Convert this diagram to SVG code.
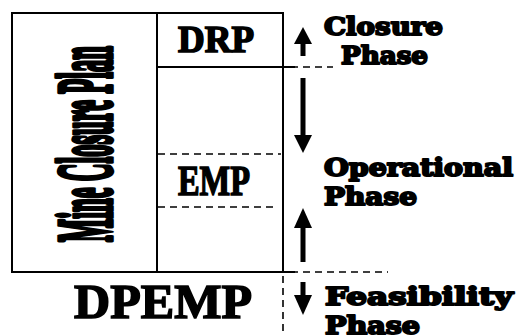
<svg xmlns="http://www.w3.org/2000/svg" width="516" height="336" viewBox="0 0 516 336">
<defs>
<style>
.ln{stroke:#000;stroke-width:2;fill:none}
.dash{stroke:#000;stroke-width:1.6;fill:none;stroke-dasharray:7,5}
.bx{font-family:"Liberation Serif","Times New Roman",serif;font-weight:bold;fill:#000;stroke:#000;stroke-width:1.6}
.mcp{stroke-width:5.5px;stroke-linejoin:round}
.ph{font-family:"DejaVu Serif","Liberation Serif",serif;font-weight:bold;fill:#000;stroke:#000;stroke-width:2;stroke-linejoin:round;font-size:24px}
.arr{fill:#000}
</style>
</defs>
<rect width="516" height="336" fill="#fff"/>
<g id="plan">
<rect class="ln" x="12" y="13" width="271" height="259"/>
<text class="bx mcp" transform="translate(111,242) rotate(-90)" font-size="79" textLength="196" lengthAdjust="spacingAndGlyphs">Mine Closure Plan</text>
</g>
<g id="drp">
<line class="ln" x1="157" y1="13" x2="157" y2="272"/>
<text class="bx" x="216" y="52" font-size="37" text-anchor="middle">DRP</text>
</g>
<g id="emp">
<text class="bx" x="178" y="195" font-size="43" textLength="72" lengthAdjust="spacingAndGlyphs">EMP</text>
</g>
<g id="dpemp">
<text class="bx" x="74" y="318" font-size="49" textLength="178" lengthAdjust="spacingAndGlyphs">DPEMP</text>
</g>
<g id="phases">
<text class="ph" x="324" y="35" textLength="119" lengthAdjust="spacingAndGlyphs">Closure</text>
<text class="ph" x="341" y="64" textLength="87" lengthAdjust="spacingAndGlyphs">Phase</text>
<text class="ph" x="324" y="176" textLength="189" lengthAdjust="spacingAndGlyphs">Operational</text>
<text class="ph" x="324" y="205" textLength="93" lengthAdjust="spacingAndGlyphs">Phase</text>
<text class="ph" x="325" y="305" textLength="188" lengthAdjust="spacingAndGlyphs">Feasibility</text>
<text class="ph" x="325" y="334" textLength="95" lengthAdjust="spacingAndGlyphs">Phase</text>
</g>
<g id="connectors">
<line class="ln" x1="157" y1="67" x2="295" y2="67"/>
<line class="ln" x1="283" y1="272" x2="295" y2="272"/>
<line class="dash" x1="158" y1="154" x2="281" y2="154"/>
<line class="dash" x1="158" y1="207" x2="278" y2="207"/>
<line class="dash" x1="291" y1="67" x2="333" y2="67"/>
<line class="dash" x1="291" y1="272" x2="388" y2="272"/>
<line class="dash" x1="283" y1="276" x2="283" y2="336"/>
<rect class="arr" x="300.5" y="42" width="5" height="14"/>
<polygon class="arr" points="303,27 294,44 312,44"/>
<rect class="arr" x="300.5" y="78" width="5" height="58"/>
<polygon class="arr" points="303,153 294,135 312,135"/>
<rect class="arr" x="300.5" y="226" width="5" height="36"/>
<polygon class="arr" points="303,208 294,228 312,228"/>
<rect class="arr" x="300.5" y="282" width="5" height="14"/>
<polygon class="arr" points="303,315 294,295 312,295"/>
</g>
</svg>
